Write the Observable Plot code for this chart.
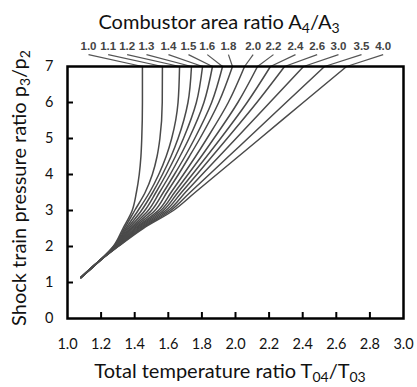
<!DOCTYPE html>
<html>
<head>
<meta charset="utf-8">
<script src="https://cdn.jsdelivr.net/npm/d3@7"></script>
<script src="https://cdn.jsdelivr.net/npm/@observablehq/plot@0.6"></script>
<style>
  html, body { margin: 0; padding: 0; background: #fff; }
  #chart { width: 417px; height: 387px; }
</style>
</head>
<body>
<div id="chart"></div>
<script>
// Combustor area ratio A4/A3 (curve labels)
const ratios = ["1.0","1.1","1.2","1.3","1.4","1.5","1.6","1.8","2.0","2.2","2.4","2.6","3.0","3.5","4.0"];
// pressure ratio levels at which each curve's temperature ratio was read
const pLevels = [1.14, 1.6, 2.0, 2.5, 3.0, 3.5, 4.0, 4.5, 5.0, 6.0, 7.0];
// temperature ratio T04/T03 of each curve at those pressure levels
const tCurves = [
  [1.08,1.19,1.272,1.330,1.385,1.410,1.427,1.437,1.442,1.446,1.446],
  [1.08,1.19,1.274,1.338,1.400,1.462,1.505,1.533,1.550,1.564,1.565],
  [1.08,1.19,1.276,1.347,1.420,1.488,1.543,1.587,1.620,1.658,1.667],
  [1.08,1.19,1.278,1.355,1.440,1.507,1.565,1.616,1.658,1.717,1.738],
  [1.08,1.19,1.281,1.364,1.460,1.526,1.587,1.642,1.690,1.767,1.804],
  [1.08,1.19,1.283,1.373,1.480,1.547,1.611,1.669,1.723,1.812,1.863],
  [1.08,1.19,1.285,1.381,1.500,1.570,1.636,1.699,1.757,1.858,1.923],
  [1.08,1.19,1.287,1.390,1.520,1.591,1.660,1.725,1.788,1.900,1.982],
  [1.08,1.19,1.289,1.399,1.540,1.616,1.690,1.762,1.830,1.957,2.054],
  [1.08,1.19,1.291,1.407,1.555,1.637,1.717,1.796,1.871,2.014,2.131],
  [1.08,1.19,1.293,1.416,1.570,1.657,1.743,1.828,1.911,2.069,2.208],
  [1.08,1.19,1.296,1.424,1.585,1.678,1.770,1.860,1.950,2.127,2.292],
  [1.08,1.19,1.298,1.433,1.600,1.701,1.801,1.902,2.003,2.204,2.405],
  [1.08,1.19,1.300,1.441,1.615,1.729,1.844,1.958,2.073,2.301,2.530],
  [1.08,1.19,1.302,1.450,1.630,1.759,1.888,2.017,2.146,2.403,2.661]
];
// where each curve label sits along the top (in T04/T03 units)
const labelT = [1.125,1.242,1.355,1.470,1.601,1.720,1.832,1.958,2.105,2.226,2.357,2.486,2.613,2.750,2.879];
const leaderP = 7.33;
const labelP = 7.57;
// axis ticks
const xTicks = [1.0,1.2,1.4,1.6,1.8,2.0,2.2,2.4,2.6,2.8,3.0];
const xInnerTicks = [1.2,1.4,1.6,1.8,2.0,2.2,2.4,2.6,2.8];
const yTicks = [0,1,2,3,4,5,6,7];
const yInnerTicks = [1,2,3,4,5,6];

const rows = ratios.flatMap((r, i) => pLevels.map((p, j) => ({ratio: r, T: tCurves[i][j], p})));
const leaders = ratios.map((r, i) => {
  const top = tCurves[i][tCurves[i].length - 1];
  return {ratio: r, x1: top, y1: pLevels[pLevels.length - 1], x2: labelT[i], y2: leaderP};
});
const labels = ratios.map((r, i) => ({ratio: r, x: labelT[i], y: labelP}));

const font = "Lato, 'Open Sans', sans-serif";

const svg = Plot.plot({
  width: 417,
  height: 387,
  marginLeft: 67,
  marginRight: 14,
  marginTop: 66,
  marginBottom: 69,
  style: {fontFamily: font, background: "white", color: "black"},
  x: {domain: [1, 3]},
  y: {domain: [0, 7]},
  marks: [
    Plot.line(rows, {x: "T", y: "p", z: "ratio", curve: "monotone-y", stroke: "#4a4a4a", strokeWidth: 1.5}),
    Plot.link(leaders, {x1: "x1", y1: "y1", x2: "x2", y2: "y2", stroke: "#555", strokeWidth: 1.2}),
    Plot.text(labels, {x: "x", y: "y", text: "ratio", fill: "#444", fontSize: 11.5, fontWeight: "bold",
      fontFamily: "'Liberation Sans Narrow', 'Arial Narrow', 'Liberation Sans', sans-serif"}),
    Plot.frame({stroke: "black", strokeWidth: 2.5}),
    Plot.axisX({ticks: xInnerTicks, tickSize: 6, dy: -6, tickFormat: () => "", strokeWidth: 2, label: null}),
    Plot.axisY({ticks: yInnerTicks, tickSize: 6, dx: 6, tickFormat: () => "", strokeWidth: 2, label: null}),
    Plot.axisX({ticks: xTicks, tickSize: 0, tickPadding: 20, tickFormat: d3.format(".1f"), fontSize: 14.5, fill: "#111", label: null}),
    Plot.axisY({ticks: yTicks, tickSize: 0, tickPadding: 14, tickFormat: d3.format("d"), fontSize: 14.5, fill: "#111", label: null})
  ]
});

const s = d3.select(svg);
function addText(x, y, rotate, parts) {
  const t = s.append("text")
    .attr("text-anchor", "middle")
    .attr("font-family", font)
    .attr("font-size", 20)
    .attr("fill", "#111")
    .attr("transform", `translate(${x},${y})` + (rotate ? ` rotate(${rotate})` : ""));
  for (const [str, sub] of parts) {
    const sp = t.append("tspan").text(str);
    if (sub) sp.attr("baseline-shift", "-25%").attr("font-size", 14);
  }
}
addText(219, 29, 0, [["Combustor area ratio A", false], ["4", true], ["/A", false], ["3", true]]);
addText(230, 378, 0, [["Total temperature ratio T", false], ["04", true], ["/T", false], ["03", true]]);
addText(26, 188, -90, [["Shock train pressure ratio p", false], ["3", true], ["/p", false], ["2", true]]);

document.getElementById("chart").appendChild(svg);
</script>
</body>
</html>
